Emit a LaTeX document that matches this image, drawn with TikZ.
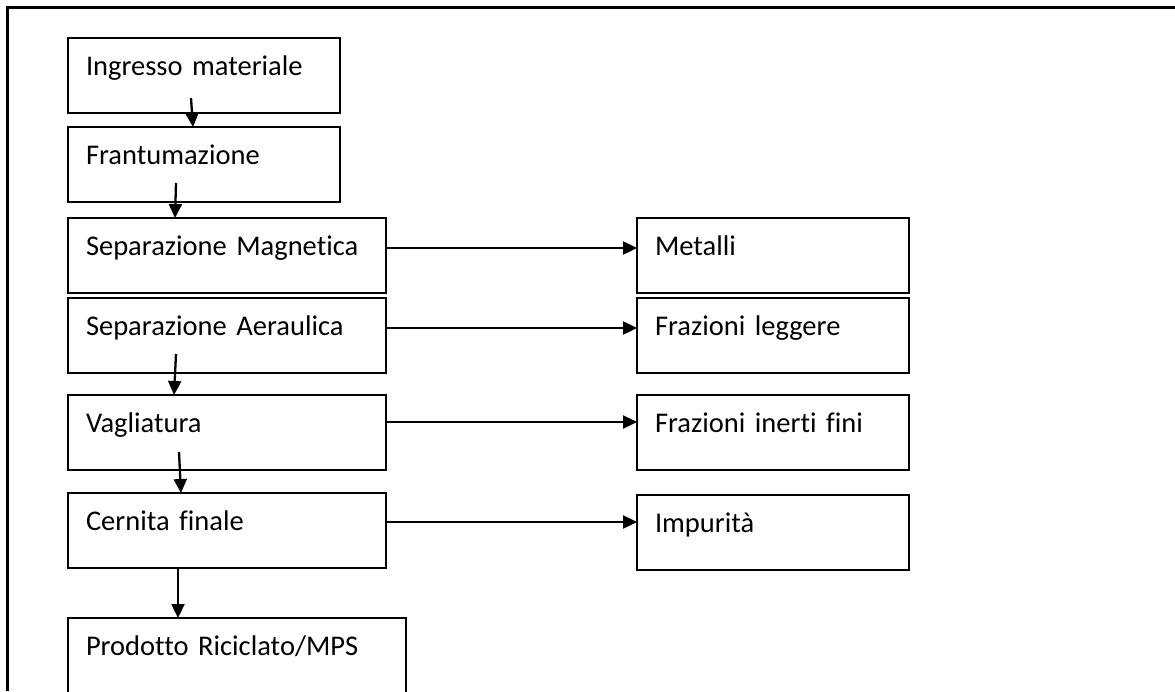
\documentclass[tikz,border=0pt]{standalone}
\usepackage{fontspec}
\setmainfont{Carlito}[Ligatures=NoCommon]
\usetikzlibrary{arrows.meta}
\tikzset{fase/.style={draw=black,line width=2pt,rectangle,anchor=north west,outer sep=0pt,inner xsep=18pt,inner ysep=0pt,align=left,text width=#1,text height=37pt,text depth=38pt,font=\fontsize{28.5}{32}\selectfont}}
\tikzset{freccia/.style={line width=2.3pt,-{Triangle[length=14pt,width=13pt]}}}

\begin{document}
\begin{tikzpicture}[x=1pt,y=-1pt]

          \clip (0,0) rectangle (1175,691);

          %cornice
          \draw[line width=2.5pt] (7.5,691) -- (7.5,7.5) -- (1175,7.5);

          %fasi del processo
          \node[fase=236pt] (ingresso) at (68,38) {Ingresso materiale};
          \node[fase=236pt] (frantumazione) at (68,127) {Frantumazione};
          \node[fase=282pt] (magnetica) at (68,218) {Separazione Magnetica};
          \node[fase=282pt] (aeraulica) at (68,298) {Separazione Aeraulica};
          \node[fase=282pt] (vagliatura) at (68,395) {Vagliatura};
          \node[fase=282pt] (cernita) at (68,493) {Cernita finale};
          \node[fase=302pt] (prodotto) at (68,618) {Prodotto Riciclato/MPS};

          %scarti
          \node[fase=236pt] (metalli) at (637,218) {Metalli};
          \node[fase=236pt] (leggere) at (637,298) {Frazioni leggere};
          \node[fase=236pt] (inerti) at (637,395) {Frazioni inerti fini};
          \node[fase=236pt] (impurita) at (637,495) {Impurità};

          %frecce verticali
          \draw[freccia] ([xshift=123pt,yshift=15pt]ingresso.south west) -- ([xshift=125pt]frantumazione.north west);
          \draw[freccia] ([xshift=108pt,yshift=19pt]frantumazione.south west) -- ([xshift=107pt]magnetica.north west);
          \draw[freccia] ([xshift=108pt,yshift=19pt]aeraulica.south west) -- ([xshift=106pt]vagliatura.north west);
          \draw[freccia] ([xshift=111pt,yshift=18pt]vagliatura.south west) -- ([xshift=113pt]cernita.north west);
          \draw[freccia] ([xshift=110pt]cernita.south west) -- ([xshift=110pt]prodotto.north west);

          %frecce orizzontali
          \draw[freccia] ([yshift=7.5pt]magnetica.east) -- ([yshift=7.5pt]metalli.west);
          \draw[freccia] ([yshift=7.5pt]aeraulica.east) -- ([yshift=7.5pt]leggere.west);
          \draw[freccia] ([yshift=10.5pt]vagliatura.east) -- ([yshift=10.5pt]inerti.west);
          \draw[freccia] ([yshift=8.5pt]cernita.east) -- ([yshift=10.5pt]impurita.west);

\end{tikzpicture}
\end{document}
